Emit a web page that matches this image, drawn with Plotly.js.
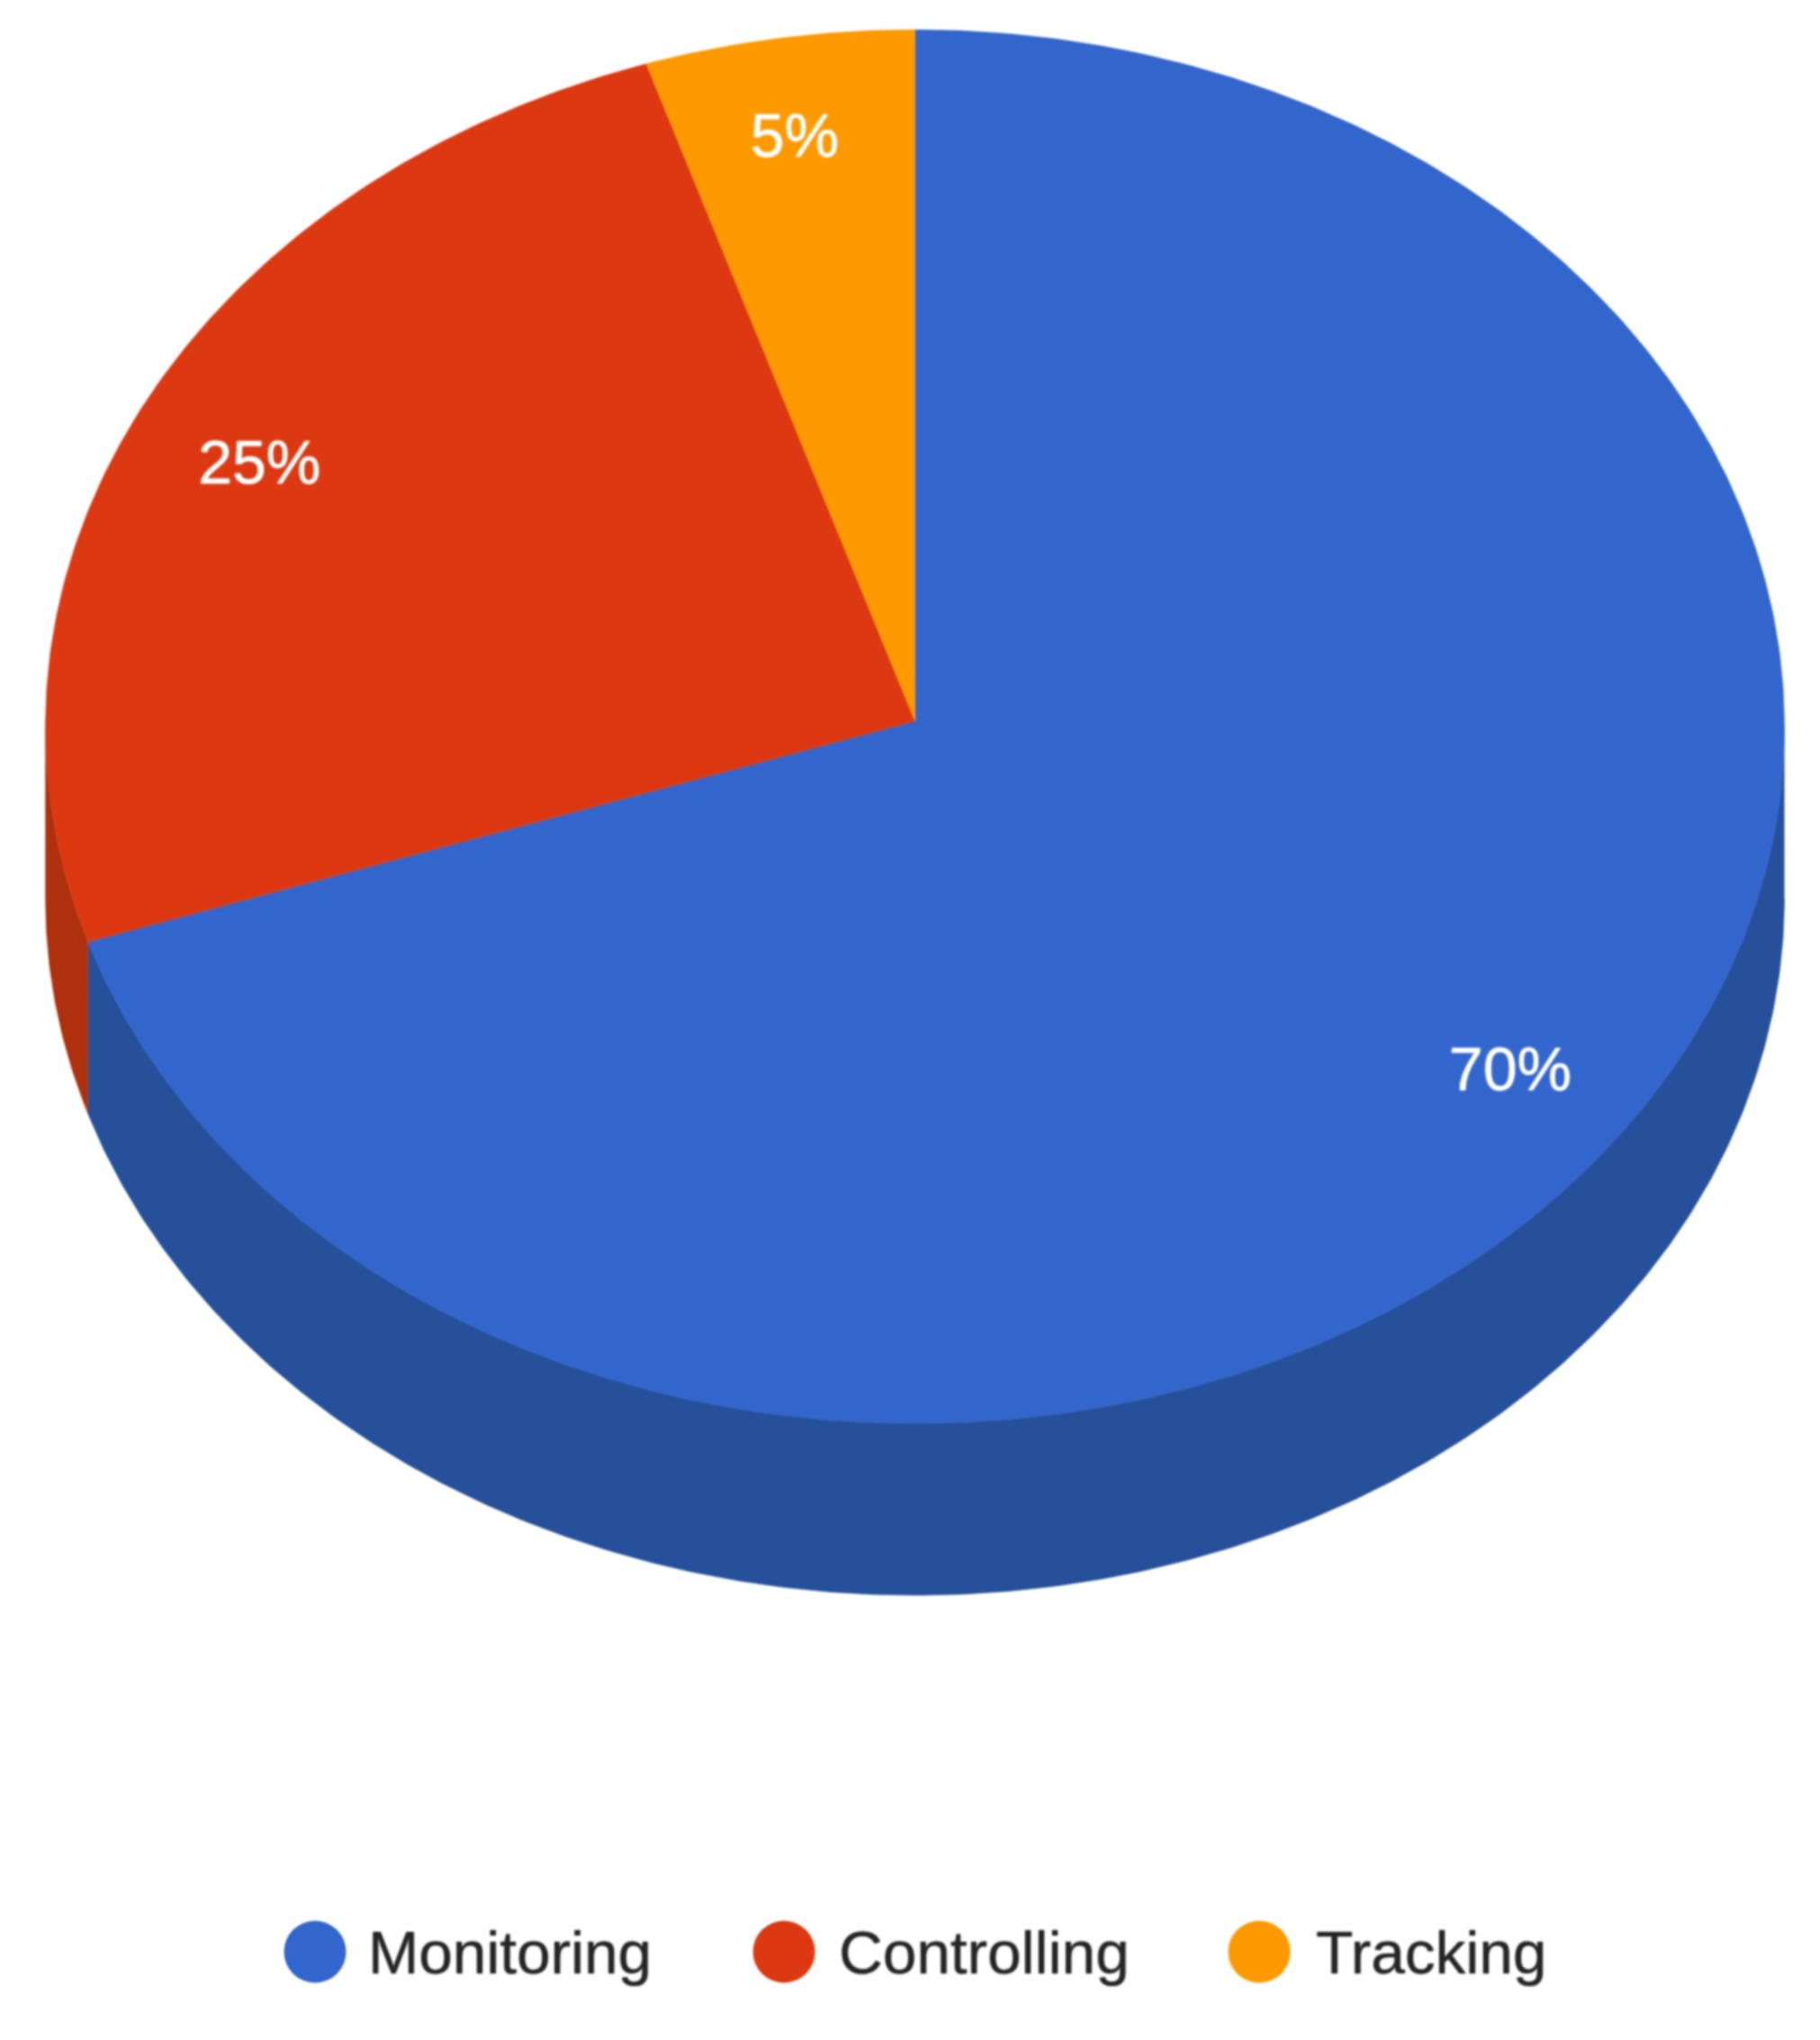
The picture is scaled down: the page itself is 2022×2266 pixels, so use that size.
<!DOCTYPE html>
<html>
<head>
<meta charset="utf-8">
<script src="https://cdn.plot.ly/plotly-3.0.1.min.js"></script>
<style>
html,body{margin:0;padding:0;background:#fff;}
#chart{width:2022px;height:2266px;filter:blur(1.1px);}
</style>
</head>
<body>
<div id="chart"></div>
<script>
// Data
const categories = ["Monitoring", "Controlling", "Tracking"];
const shares = [70, 25, 5];
const shareLabels = ["70%", "25%", "5%"];
const topColors = ["#3366CC", "#DC3912", "#FF9900"];
const wallColors = ["#26509A", "#AE300C", "#B26B00"];

// Pie projection (page pixels)
const W = 2022, H = 2266;
const cx = 1016.5, cy = 807, rx = 966, ry = 774, depth = 191, vertexY = 801, labelRadius = 0.845;
const labelDx = [1, -1, -6], labelDy = [3, 10, -4];
const legendY = 2168, legendSize = 69;
const legendMarkerX = [350, 871, 1399];
const legendTextX = [409, 932, 1462];
const total = shares.reduce((a, b) => a + b, 0);

function px(deg, k) { return cx + rx * (k === undefined ? 1 : k) * Math.sin(deg * Math.PI / 180); }
function py(deg, k) { return cy - ry * (k === undefined ? 1 : k) * Math.cos(deg * Math.PI / 180); }
function steps(a, b) {
  const out = [];
  const n = Math.max(2, Math.ceil((b - a) * 2));
  for (let i = 0; i <= n; i++) out.push(a + (b - a) * i / n);
  return out;
}

const traces = [];
let start = 0;
const spans = shares.map(v => { const s = [start, start + v / total * 360]; start = s[1]; return s; });

// Side walls (only the front half of the rim, 90 to 270 degrees, is visible)
spans.forEach((s, i) => {
  const a = Math.max(s[0], 90), b = Math.min(s[1], 270);
  if (b <= a) return;
  const arc = steps(a, b);
  const x = arc.map(d => px(d)).concat(arc.slice().reverse().map(d => px(d)));
  const y = arc.map(d => py(d)).concat(arc.slice().reverse().map(d => py(d) + depth));
  traces.push({ type: "scatter", mode: "lines", x, y, fill: "toself", fillcolor: wallColors[i],
    line: { width: 0.5, color: wallColors[i] }, hoverinfo: "skip", showlegend: false });
});

// Top faces
spans.forEach((s, i) => {
  const arc = steps(s[0], s[1]);
  const x = [cx].concat(arc.map(d => px(d)), [cx]);
  const y = [vertexY].concat(arc.map(d => py(d)), [vertexY]);
  traces.push({ type: "scatter", mode: "lines", x, y, fill: "toself", fillcolor: topColors[i],
    line: { width: 0.5, color: topColors[i] }, name: categories[i], hoverinfo: "name", showlegend: false });
});

// Percent labels, centred at each slice's mid-angle
traces.push({
  type: "scatter", mode: "text",
  x: spans.map((s, i) => px((s[0] + s[1]) / 2, labelRadius) + labelDx[i]),
  y: spans.map((s, i) => py((s[0] + s[1]) / 2, labelRadius) + labelDy[i]),
  text: shareLabels, textposition: "middle center",
  textfont: { family: "Liberation Sans, Arial, sans-serif", size: 68, color: "#FFFFFF", shadow: "0 0 2px #FFFFFF" },
  hoverinfo: "skip", showlegend: false
});

// Legend markers
traces.push({
  type: "scatter", mode: "markers",
  x: legendMarkerX, y: categories.map(() => legendY),
  marker: { size: legendSize, color: topColors, line: { width: 0 } },
  hoverinfo: "skip", showlegend: false
});

const layout = {
  width: W, height: H,
  margin: { l: 0, r: 0, t: 0, b: 0, pad: 0 },
  paper_bgcolor: "#FFFFFF", plot_bgcolor: "#FFFFFF",
  showlegend: false,
  xaxis: { range: [0, W], visible: false, fixedrange: true },
  yaxis: { range: [H, 0], visible: false, fixedrange: true },
  annotations: categories.map((c, i) => ({
    xref: "x", yref: "y", x: legendTextX[i], y: legendY, text: c,
    showarrow: false, xanchor: "left", yanchor: "middle",
    borderpad: 0, borderwidth: 0,
    font: { family: "Liberation Sans, Arial, sans-serif", size: 67.5, color: "#262626", shadow: "0 0 2px #555555" }
  }))
};

Plotly.newPlot("chart", traces, layout, { staticPlot: true, displayModeBar: false });
</script>
</body>
</html>
